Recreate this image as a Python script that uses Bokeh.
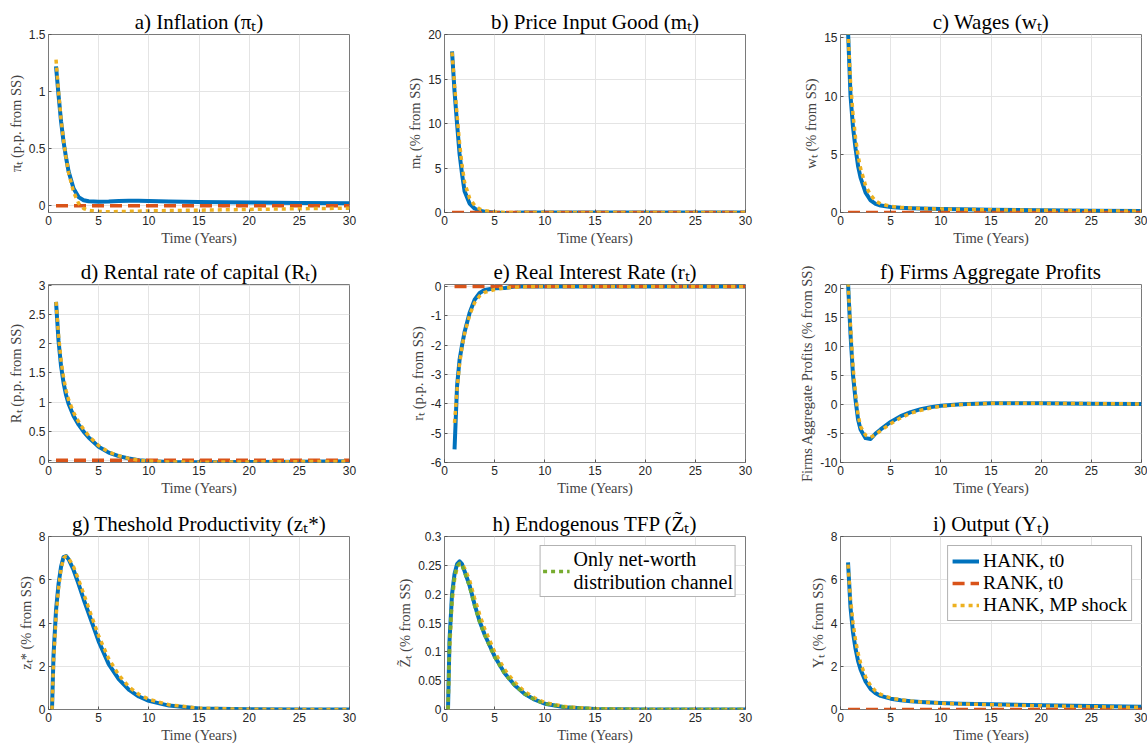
from bokeh.plotting import figure
from bokeh.layouts import column, row
from bokeh.models import Range1d, FixedTicker, Legend, LegendItem
from bokeh.embed import file_html
from bokeh.resources import INLINE

# ---------------- data ----------------
T = [0.75, 1.0, 1.25, 1.5, 1.75, 2.0, 2.5, 3.0, 3.5, 4.0, 5.0, 6.0, 7.0, 8.0, 9.0, 10.0, 12.0, 15.0, 20.0, 25.0, 30.0]
T_E = [1.0, 1.25, 1.5, 1.75, 2.0, 2.5, 3.0, 3.5, 4.0, 5.0, 6.0, 7.0, 8.0, 9.0, 10.0, 12.0, 15.0, 20.0, 25.0, 30.0]
T_H = [0.35, 0.5, 0.75, 1.0, 1.25, 1.5, 1.75, 2.0, 2.5, 3.0, 3.5, 4.0, 5.0, 6.0, 7.0, 8.0, 9.0, 10.0, 12.0, 15.0, 20.0, 25.0, 30.0]

RANK_T = [0, 0, 0, 0, 0, 0, 0, 0, 0, 0, 0, 0, 0, 0, 0, 0, 0, 0, 0, 0, 0]
RANK_E = [0, 0, 0, 0, 0, 0, 0, 0, 0, 0, 0, 0, 0, 0, 0, 0, 0, 0, 0, 0]

infl_hank = [1.22, 0.97, 0.74, 0.56, 0.42, 0.30, 0.15, 0.075, 0.048, 0.038, 0.035, 0.036, 0.040, 0.042, 0.042, 0.040, 0.037, 0.033, 0.028, 0.024, 0.020]
infl_mp = [1.28, 1.00, 0.76, 0.57, 0.42, 0.29, 0.12, 0.02, -0.025, -0.042, -0.052, -0.053, -0.052, -0.050, -0.048, -0.046, -0.043, -0.040, -0.033, -0.027, -0.022]

m_hank = [18.1, 13.6, 10.0, 6.6, 4.3, 2.4, 1.0, 0.45, 0.2, 0.08, 0.0, -0.05, -0.04, 0.0, 0.0, 0.0, 0.0, 0.0, 0.0, 0.0, 0.0]
m_mp = [18.0, 14.3, 11.0, 7.8, 5.3, 3.4, 1.6, 0.8, 0.4, 0.2, 0.05, 0.0, 0.0, 0.0, 0.0, 0.0, 0.0, 0.0, 0.0, 0.0, 0.0]

w_hank = [15.6, 10.0, 7.3, 5.5, 4.0, 3.0, 1.7, 1.05, 0.75, 0.6, 0.47, 0.41, 0.37, 0.34, 0.32, 0.3, 0.27, 0.23, 0.19, 0.15, 0.12]
w_mp = [15.6, 11.2, 8.4, 6.4, 4.9, 3.8, 2.3, 1.5, 1.0, 0.75, 0.53, 0.44, 0.39, 0.35, 0.32, 0.3, 0.27, 0.23, 0.19, 0.15, 0.12]

R_hank = [2.72, 2.05, 1.62, 1.33, 1.12, 0.97, 0.76, 0.61, 0.49, 0.39, 0.23, 0.13, 0.07, 0.03, 0.0, -0.015, -0.03, -0.035, -0.03, -0.025, -0.02]
R_mp = [2.72, 2.15, 1.72, 1.42, 1.2, 1.04, 0.82, 0.66, 0.53, 0.42, 0.25, 0.14, 0.075, 0.03, 0.0, -0.015, -0.03, -0.035, -0.03, -0.025, -0.02]

r_hank = [-5.55, -3.4, -2.5, -2.0, -1.55, -0.9, -0.45, -0.22, -0.12, -0.06, -0.05, 0.0, 0.0, 0.0, 0.0, 0.0, 0.0, 0.0, 0.0, 0.0]
r_mp = [-4.65, -3.5, -2.65, -2.05, -1.6, -0.98, -0.55, -0.32, -0.2, -0.1, -0.05, -0.02, -0.01, 0.0, 0.0, 0.0, 0.0, 0.0, 0.0, 0.0]

prof_hank = [21.0, 12.0, 5.0, 0.8, -2.6, -4.3, -5.8, -5.95, -5.0, -4.3, -3.0, -2.0, -1.3, -0.8, -0.45, -0.2, 0.05, 0.2, 0.2, 0.15, 0.1]
prof_mp = [21.0, 13.5, 6.5, 1.8, -1.8, -3.8, -5.3, -5.65, -5.2, -4.5, -3.3, -2.3, -1.5, -1.0, -0.6, -0.3, 0.0, 0.2, 0.2, 0.15, 0.1]

z_hank = [0, 2.5, 4.6, 5.8, 6.6, 7.05, 7.1, 6.95, 6.45, 5.8, 5.1, 4.45, 3.15, 2.1, 1.4, 0.92, 0.6, 0.4, 0.18, 0.05, 0.01, 0, 0]
z_mp = [0, 2.2, 4.3, 5.6, 6.5, 7.0, 7.1, 7.0, 6.6, 6.0, 5.35, 4.7, 3.4, 2.35, 1.6, 1.05, 0.7, 0.47, 0.22, 0.06, 0.01, 0, 0]

tfp_hank = [0, 0.12, 0.2, 0.235, 0.252, 0.257, 0.252, 0.24, 0.215, 0.182, 0.153, 0.13, 0.092, 0.063, 0.042, 0.027, 0.017, 0.01, 0.004, 0.001, 0, 0, 0]
tfp_mp = [0, 0.1, 0.185, 0.225, 0.245, 0.253, 0.253, 0.245, 0.224, 0.193, 0.165, 0.14, 0.1, 0.069, 0.047, 0.031, 0.02, 0.012, 0.005, 0.001, 0, 0, 0]
tfp_networth = [0, 0.115, 0.195, 0.232, 0.249, 0.254, 0.25, 0.238, 0.213, 0.18, 0.152, 0.129, 0.091, 0.062, 0.042, 0.027, 0.017, 0.01, 0.004, 0.001, 0, 0, 0]

Y_hank = [6.8, 4.7, 3.55, 2.8, 2.25, 1.85, 1.3, 0.95, 0.75, 0.63, 0.5, 0.43, 0.38, 0.35, 0.32, 0.3, 0.27, 0.24, 0.2, 0.16, 0.13]
Y_mp = [6.7, 5.1, 4.0, 3.2, 2.6, 2.15, 1.5, 1.1, 0.85, 0.7, 0.53, 0.45, 0.39, 0.35, 0.32, 0.29, 0.26, 0.22, 0.17, 0.13, 0.1]

X_TICKS = [0, 5, 10, 15, 20, 25, 30]

LEG_HANK = "HANK, t0"
LEG_RANK = "RANK, t0"
LEG_MP = "HANK, MP shock"
LEG_NW = "Only net-worth\ndistribution channel"

# ---------------- style ----------------
BLUE = "#0072BD"
RED = "#D95319"
YELLOW = "#EDB120"
GREEN = "#77AC30"
SERIF = "Liberation Serif"
SANS = "Liberation Sans"

FRAME_W = 301
COLS = [(48, 10), (85, 10), (85, 6)]
ROWS = [(34, 178, 42), (30, 178, 44), (30, 177, 32)]


def fmt(v):
    return ("%g" % v)


def panel(ci, ri, title, ylabel, yr, yticks):
    left, right = COLS[ci]
    top, fh, bottom = ROWS[ri]
    p = figure(width=left + FRAME_W + right, height=top + fh + bottom,
               output_backend="svg", toolbar_location=None,
               x_range=Range1d(0, 30), y_range=Range1d(*yr),
               min_border_left=left, min_border_right=right,
               min_border_top=top, min_border_bottom=bottom)
    p.title.text = title
    p.title.text_font = SERIF
    p.title.text_font_size = "21px"
    p.title.text_font_style = "normal"
    p.title.align = "center"
    p.title.standoff = 2
    p.title.text_color = "#000000"
    p.outline_line_color = "#7a7a7a"
    p.outline_line_width = 1
    p.background_fill_color = "white"
    p.border_fill_color = "white"

    p.xaxis.ticker = FixedTicker(ticks=X_TICKS)
    p.yaxis.ticker = FixedTicker(ticks=yticks)
    p.xaxis.major_label_overrides = {v: fmt(v) for v in X_TICKS}
    p.yaxis.major_label_overrides = {v: fmt(v) for v in yticks}
    p.xaxis.axis_label = "Time (Years)"
    p.yaxis.axis_label = ylabel
    for ax in (p.xaxis, p.yaxis):
        ax.axis_line_color = None
        ax.major_tick_in = 3
        ax.major_tick_out = 0
        ax.major_tick_line_color = "#555555"
        ax.minor_tick_line_color = None
        ax.major_label_text_font = SANS
        ax.major_label_text_font_size = "12px"
        ax.major_label_text_color = "#262626"
        ax.major_label_standoff = 3
        ax.axis_label_text_font = SERIF
        ax.axis_label_text_font_size = "14.5px"
        ax.axis_label_text_font_style = "normal"
        ax.axis_label_text_color = "#444444"
        ax.axis_label_standoff = 2
    p.grid.grid_line_color = "#e4e4e4"
    p.grid.grid_line_width = 1
    return p


def lines(p, t, hank, mp, rank=None, t_rank=None):
    rb = p.line(t, hank, line_color=BLUE, line_width=4, line_join="round")
    rr = None
    if rank is not None:
        rr = p.line(t_rank, rank, line_color=RED, line_width=3.5, line_dash="12 6")
    ry = p.line(t, mp, line_color=YELLOW, line_width=3.5, line_dash="4 4")
    return rb, rr, ry


def legend_style(leg, padding, size):
    leg.label_text_font = SERIF
    leg.label_text_font_size = size
    leg.label_text_color = "#000000"
    leg.glyph_width = 27
    leg.glyph_height = 20
    leg.label_height = 20
    leg.label_standoff = 4
    leg.padding = padding
    leg.spacing = 0
    leg.margin = 9
    leg.border_line_color = "#666666"
    leg.border_line_width = 1
    leg.background_fill_alpha = 1.0
    leg.location = "top_right"


pa = panel(0, 0, "a) Inflation (\u03c0\u209c)", "\u03c0\u209c (p.p. from SS)", (-0.06, 1.5), [0, 0.5, 1, 1.5])
lines(pa, T, infl_hank, infl_mp, RANK_T, T)

pb = panel(1, 0, "b) Price Input Good (m\u209c)", "m\u209c (% from SS)", (0, 20), [0, 5, 10, 15, 20])
lines(pb, T, m_hank, m_mp, RANK_T, T)

pc = panel(2, 0, "c) Wages (w\u209c)", "w\u209c (% from SS)", (0, 15.3), [0, 5, 10, 15])
lines(pc, T, w_hank, w_mp, RANK_T, T)

pd = panel(0, 1, "d) Rental rate of capital (R\u209c)", "R\u209c (p.p. from SS)", (-0.04, 3.02), [0, 0.5, 1, 1.5, 2, 2.5, 3])
lines(pd, T, R_hank, R_mp, RANK_T, T)

pe = panel(1, 1, "e) Real Interest Rate (r\u209c)", "r\u209c (p.p. from SS)", (-6, 0.07), [-6, -5, -4, -3, -2, -1, 0])
lines(pe, T_E, r_hank, r_mp, RANK_E, T_E)

pf = panel(2, 1, "f) Firms Aggregate Profits", "Firms Aggregate Profits (% from SS)", (-10, 20.7), [-10, -5, 0, 5, 10, 15, 20])
lines(pf, T, prof_hank, prof_mp)

pg = panel(0, 2, "g) Theshold Productivity (z\u209c*)", "z\u209c* (% from SS)", (0, 8), [0, 2, 4, 6, 8])
lines(pg, T_H, z_hank, z_mp)

ph = panel(1, 2, "h) Endogenous TFP (Z\u0303\u209c)", "Z\u0303\u209c (% from SS)", (0, 0.3), [0, 0.05, 0.1, 0.15, 0.2, 0.25, 0.3])
lines(ph, T_H, tfp_hank, tfp_mp)
rg = ph.line(T_H, tfp_networth, line_color=GREEN, line_width=3.5, line_dash="4 4")
leg_h = Legend(items=[LegendItem(label=LEG_NW, renderers=[rg])])
legend_style(leg_h, 2, "20px")
ph.add_layout(leg_h)

pi = panel(2, 2, "i) Output (Y\u209c)", "Y\u209c (% from SS)", (0, 8), [0, 2, 4, 6, 8])
rb, rr, ry = lines(pi, T, Y_hank, Y_mp, RANK_T, T)
leg_i = Legend(items=[LegendItem(label=LEG_HANK, renderers=[rb]),
                      LegendItem(label=LEG_RANK, renderers=[rr]),
                      LegendItem(label=LEG_MP, renderers=[ry])])
legend_style(leg_i, 4, "19.5px")
pi.add_layout(leg_i)

layout = column(row(pa, pb, pc), row(pd, pe, pf), row(pg, ph, pi))

open("out.html", "w").write(file_html(layout, INLINE))
